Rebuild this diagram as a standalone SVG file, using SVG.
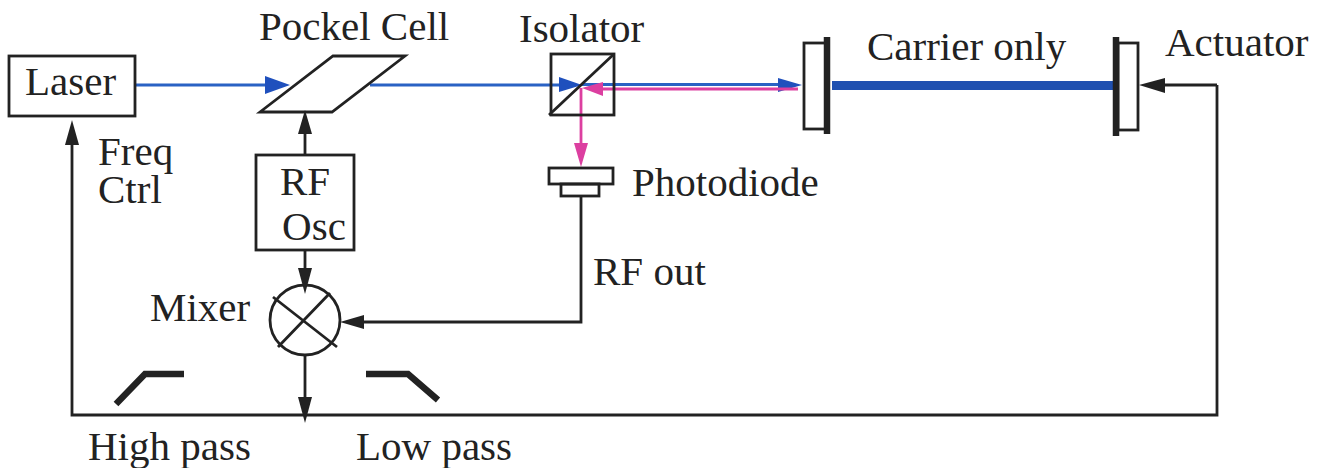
<svg xmlns="http://www.w3.org/2000/svg" width="1322" height="468" viewBox="0 0 1322 468">
<style>
text{font-family:"Liberation Serif","Times New Roman",serif;font-size:41px;fill:#222}
.s{fill:none;stroke:#222;stroke-width:2.800}
.w{fill:#fff;stroke:#222;stroke-width:2.800}
.b{fill:none;stroke:#2a62c4;stroke-width:2.800}
.m{fill:none;stroke:#dc3fa0;stroke-width:2.800}
.f{fill:none;stroke:#222;stroke-width:6.500}
.ha{fill:#222}.ba{fill:#1f50bd}.ma{fill:#dc3fa0}
</style>
<rect width="1322" height="468" fill="#fff"/>
<g id="connectors">
<path class="b" d="M135 85H272"/><polygon class="ba" points="265,76 290,85 265,94"/>
<path class="b" d="M370 85H560"/>
<polygon class="ba" points="559,77 582,85 559,92"/>
<path class="b" d="M582 84.500H780"/><polygon class="ba" points="778,78 802,85 778,92"/>
<path d="M832 85.500H1114" fill="none" stroke="#1f50b0" stroke-width="9"/>
<path class="m" d="M600 89H798"/>
<path class="m" d="M581 88V145"/>
<polygon class="ma" points="582,88 603,82 603,96"/>
<polygon class="ma" points="574,143 588,143 581,167"/>
<path class="s" d="M581 196V322H360"/><polygon class="ha" points="340,322 364,315 364,329"/>
<path class="s" d="M305 250V270"/><polygon class="ha" points="298,268 312,268 305,294"/>
<path class="s" d="M305 155V130"/><polygon class="ha" points="298,134 312,134 305,110"/>
<path class="s" d="M305 355V400"/><polygon class="ha" points="298,397 312,397 305,423"/>
<path class="s" d="M1217 85V415H72V140"/>
<polygon class="ha" points="65,145 79,145 72,120"/>
<path class="s" d="M1217 85H1160"/><polygon class="ha" points="1139,85 1165,78 1165,93"/>
</g>
<g id="laser"><rect class="w" x="9" y="56" width="126" height="60"/><text x="25" y="95">Laser</text></g>
<g id="pockel-cell"><polygon class="s" points="260,112 333,56 405,56 332,112"/><text x="259" y="40">Pockel Cell</text></g>
<g id="isolator"><rect class="s" x="551" y="54" width="63" height="61"/><path class="s" d="M549 115L614 54"/><text x="519" y="42">Isolator</text></g>
<g id="photodiode"><rect class="s" x="549" y="168" width="64" height="16"/><rect class="s" x="561" y="184" width="38" height="12"/><text x="632" y="196">Photodiode</text></g>
<g id="rf-osc"><rect class="w" x="256" y="155" width="98" height="95"/><text x="305" y="195" text-anchor="middle">RF</text><text x="314" y="240" text-anchor="middle">Osc</text></g>
<g id="mixer"><circle class="s" cx="305" cy="320" r="35"/><path class="s" d="M273 297L337 347M330 293L278 347"/><text x="150" y="321">Mixer</text></g>
<g id="mirror-1"><rect class="w" x="804" y="43" width="22" height="86"/><path class="f" d="M827 37V134"/></g>
<g id="mirror-2"><rect class="w" x="1118" y="43" width="20" height="87"/><path class="f" d="M1116 37V136"/></g>
<g id="high-pass"><path class="f" d="M116 404L145 374H184"/><text x="88" y="460">High pass</text></g>
<g id="low-pass"><path class="f" d="M366 374H408L438 400"/><text x="356" y="460">Low pass</text></g>
<text x="867" y="60">Carrier only</text>
<text x="1165" y="56">Actuator</text>
<text x="98" y="165">Freq</text>
<text x="98" y="203">Ctrl</text>
<text x="593" y="285">RF out</text>
</svg>
